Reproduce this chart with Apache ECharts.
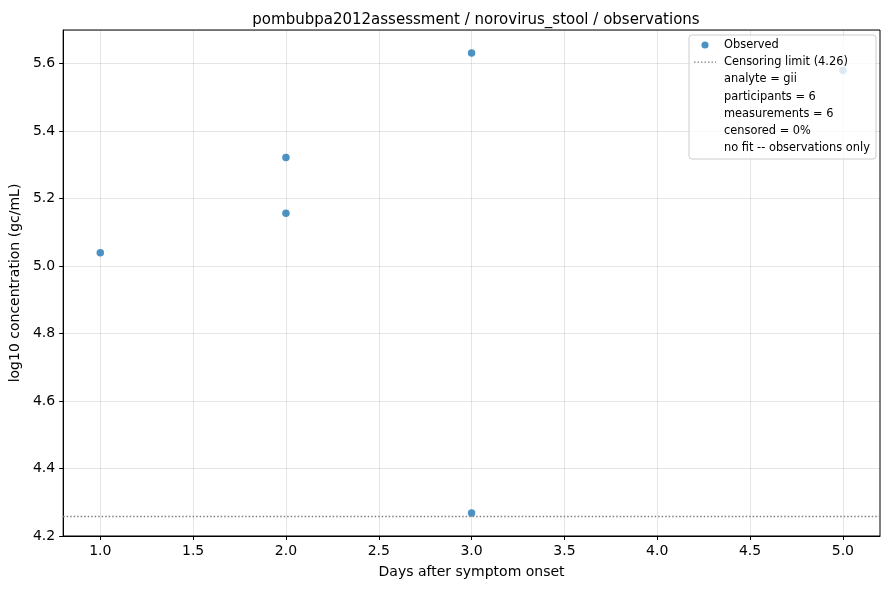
<!DOCTYPE html>
<html>
<head>
<meta charset="utf-8">
<script src="https://cdn.jsdelivr.net/npm/echarts@6/dist/echarts.min.js"></script>
<style>
  html, body { margin: 0; padding: 0; background: #fff; }
  #chart { width: 890px; height: 590px; }
</style>
</head>
<body>
<div id="chart"></div>
<script>
// observations (days after onset, log10 gc/mL)
const days = [1.0, 2.0, 2.0, 3.0, 3.0, 5.0];
const conc = [5.04, 5.322, 5.157, 5.632, 4.268, 5.58];
const censorLimit = 4.26;
const xTicks = [1.0, 1.5, 2.0, 2.5, 3.0, 3.5, 4.0, 4.5, 5.0];
const infoLines = [
  'analyte = gii',
  'participants = 6',
  'measurements = 6',
  'censored = 0%',
  'no fit -- observations only'
];

const font = 'DejaVu Sans';
const chart = echarts.init(document.getElementById('chart'));

const points = days.map((d, i) => [d, conc[i]]);

// legend drawn as a box in the upper right
const legendX = 689, legendY = 35, rowH = 17.2;
const legendFont = '11.4px ' + font;
const legendItems = [
  { type: 'rect', shape: { x: legendX, y: legendY, width: 187, height: 124, r: 3 },
    style: { fill: 'rgba(255,255,255,0.8)', stroke: '#cccccc', lineWidth: 1 }, z: 10 },
  { type: 'circle', shape: { cx: legendX + 16, cy: legendY + 10, r: 3.6 },
    style: { fill: 'rgba(31,119,180,0.8)' }, z: 11 },
  { type: 'line', shape: { x1: legendX + 5, y1: legendY + 10 + rowH, x2: legendX + 27, y2: legendY + 10 + rowH },
    style: { stroke: '#808080', lineWidth: 1.3, lineDash: [1.5, 2] }, z: 11 },
  { type: 'text', x: legendX + 35, y: legendY + 10, z: 11,
    style: { text: 'Observed', font: legendFont, fill: '#000', verticalAlign: 'middle' } },
  { type: 'text', x: legendX + 35, y: legendY + 10 + rowH, z: 11,
    style: { text: 'Censoring limit (' + censorLimit.toFixed(2) + ')', font: legendFont, fill: '#000', verticalAlign: 'middle' } }
];
infoLines.forEach((t, i) => {
  legendItems.push({ type: 'text', x: legendX + 35, y: legendY + 10 + rowH * (i + 2), z: 11,
    style: { text: t, font: legendFont, fill: '#000', verticalAlign: 'middle' } });
});

const option = {
  animation: false,
  backgroundColor: '#fff',
  title: {
    text: 'pombubpa2012assessment / norovirus_stool / observations',
    left: 471, top: 8, textAlign: 'center',
    textStyle: { fontFamily: font, fontSize: 15, fontWeight: 'normal', color: '#000' }
  },
  grid: {
    left: 63, right: 10, top: 30, bottom: 54,
    show: true, borderColor: '#000', borderWidth: 1
  },
  xAxis: {
    type: 'value', min: 0.8, max: 5.2,
    name: 'Days after symptom onset', nameLocation: 'middle', nameGap: 29,
    nameTextStyle: { fontFamily: font, fontSize: 14, color: '#000' },
    axisLine: { show: true, onZero: false, lineStyle: { color: '#000' } },
    axisTick: { show: true, length: 4, customValues: xTicks, lineStyle: { color: '#000' } },
    axisLabel: {
      fontFamily: font, fontSize: 14, color: '#000', margin: 8,
      customValues: xTicks,
      formatter: v => v.toFixed(1)
    },
    splitLine: { show: true, lineStyle: { color: 'rgba(0,0,0,0.1)', width: 1 } }
  },
  yAxis: {
    type: 'value', min: 4.2, max: 5.7, interval: 0.2,
    name: 'log10 concentration (gc/mL)', nameLocation: 'middle', nameGap: 36,
    nameTextStyle: { fontFamily: font, fontSize: 14, color: '#000' },
    axisLine: { show: true, onZero: false, lineStyle: { color: '#000' } },
    axisTick: { show: true, length: 4, lineStyle: { color: '#000' } },
    axisLabel: {
      fontFamily: font, fontSize: 14, color: '#000', margin: 8,
      showMaxLabel: false,
      formatter: v => v.toFixed(1)
    },
    splitLine: { show: true, lineStyle: { color: 'rgba(0,0,0,0.1)', width: 1 } }
  },
  series: [
    {
      name: 'Observed',
      type: 'scatter',
      data: points,
      symbolSize: 7.5,
      itemStyle: { color: '#1f77b4', opacity: 0.8 },
      markLine: {
        silent: true,
        symbol: 'none',
        label: { show: false },
        lineStyle: { color: '#808080', type: [1.5, 2], width: 1.3 },
        data: [{ yAxis: censorLimit }]
      },
      z: 3
    }
  ],
  graphic: legendItems
};

chart.setOption(option);
</script>
</body>
</html>
